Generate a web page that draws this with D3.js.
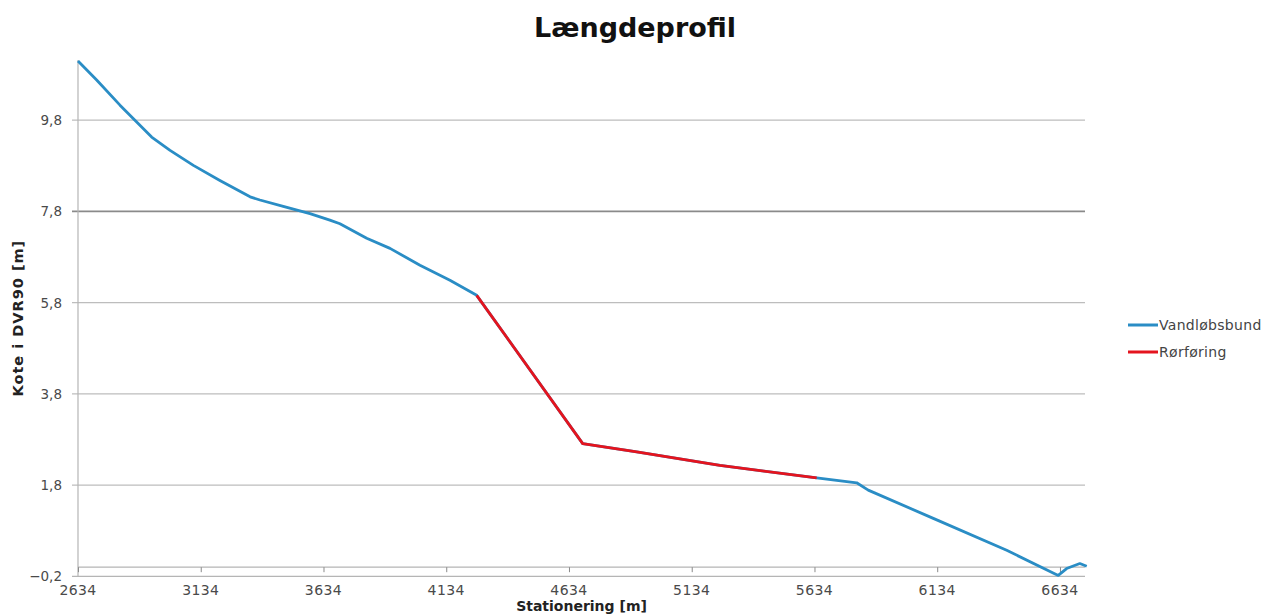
<!DOCTYPE html>
<html>
<head>
<meta charset="utf-8">
<script src="https://cdn.jsdelivr.net/npm/d3@7"></script>
<style>
  html, body { margin: 0; padding: 0; background: #fff; }
  svg { display: block; }
</style>
</head>
<body>
<svg id="chart" width="1267" height="616"></svg>
<script>
// ---- Data ----
const title = "Længdeprofil";
const xAxisTitle = "Stationering  [m]";
const yAxisTitle = "Kote i DVR90  [m]";
const xTickValues = [2634, 3134, 3634, 4134, 4634, 5134, 5634, 6134, 6634];
const yTickValues = [-0.2, 1.8, 3.8, 5.8, 7.8, 9.8];
const seriesNames = ["Vandløbsbund", "Rørføring"];

// Vandløbsbund (stationering, kote)
const bundStation = [2634, 2710, 2805, 2873, 2934, 3009, 3104, 3212, 3335, 3375, 3470, 3579, 3660, 3701, 3810, 3905, 4027, 4149, 4258,
                     4690, 4910, 5249, 5643, 5806, 5853, 6118, 6417, 6627, 6661, 6715, 6743];
const bundKote =    [11.10, 10.68, 10.13, 9.76, 9.43, 9.14, 8.81, 8.48, 8.12, 8.05, 7.91, 7.75, 7.61, 7.53, 7.21, 6.99, 6.62, 6.29, 5.96,
                     2.71, 2.53, 2.23, 1.96, 1.85, 1.69, 1.07, 0.37, -0.18, -0.03, 0.08, 0.02];
// Rørføring
const roerStation = [4258, 4690, 4910, 5249, 5643];
const roerKote =    [5.96, 2.71, 2.53, 2.23, 1.96];

const colors = ["#2a8dc5", "#e4141e"];

// ---- Layout ----
const svg = d3.select("#chart");
const mLeft = 78, mRight = 1085, mTop = 60, mBottom = 576.3;

const x = d3.scaleLinear().domain([2634, 6736]).range([mLeft, mRight]);
const y = d3.scaleLinear().domain([-0.2, 11.12]).range([mBottom, mTop]);
const fmt = d => d3.format(".1f")(d).replace(".", ",");
const font = "DejaVu Sans, Verdana, sans-serif";

// Gridlines
svg.append("g").selectAll("line").data(yTickValues.filter(v => v > -0.2)).join("line")
  .attr("x1", mLeft - 6).attr("x2", mRight)
  .attr("y1", d => y(d)).attr("y2", d => y(d))
  .attr("stroke", d => d === 7.8 ? "#8a8a8a" : "#bdbdbd").attr("stroke-width", d => d === 7.8 ? 1.6 : 1.2);

// bottom border (-0.2)
svg.append("line").attr("x1", mLeft - 6).attr("x2", mRight).attr("y1", y(-0.2)).attr("y2", y(-0.2))
  .attr("stroke", "#b5b5b5").attr("stroke-width", 1.2);

// y axis line
svg.append("line").attr("x1", mLeft).attr("x2", mLeft).attr("y1", mTop).attr("y2", y(-0.2))
  .attr("stroke", "#b5b5b5").attr("stroke-width", 1.2);

// Y axis labels
svg.append("g").selectAll("text").data(yTickValues).join("text")
  .attr("x", 62).attr("y", d => y(d) + 5)
  .attr("text-anchor", "end").attr("font-family", font).attr("font-size", 13.5)
  .attr("fill", "#4a4a4a").text(fmt);

// X axis at 0 with ticks
const xAxis = d3.axisBottom(x).tickValues(xTickValues).tickSize(5).tickFormat("");
const gx = svg.append("g").attr("transform", `translate(0,${y(0)})`).call(xAxis);
gx.select(".domain").attr("stroke", "#b5b5b5").attr("stroke-width", 1.2).attr("d", `M${mLeft},0H${mRight}`);
gx.selectAll(".tick line").attr("stroke", "#8a8a8a");

// X labels
svg.append("g").selectAll("text").data(xTickValues).join("text")
  .attr("x", d => x(d)).attr("y", 595)
  .attr("text-anchor", "middle").attr("font-family", font).attr("font-size", 14)
  .attr("letter-spacing", 0.4)
  .attr("fill", "#4a4a4a").text(d => d);

// Lines
const bund = bundStation.map((s, i) => [s, bundKote[i]]);
const roer = roerStation.map((s, i) => [s, roerKote[i]]);
const line = d3.line().x(d => x(d[0])).y(d => y(d[1]));

svg.append("path").datum(bund).attr("d", line).attr("fill", "none")
  .attr("stroke", colors[0]).attr("stroke-width", 2.8).attr("stroke-linejoin", "round");
svg.append("path").datum(roer).attr("d", line).attr("fill", "none")
  .attr("stroke", colors[1]).attr("stroke-width", 2.8).attr("stroke-linejoin", "round");

// Title
svg.append("text").attr("x", 635).attr("y", 37).attr("text-anchor", "middle")
  .attr("font-family", font).attr("font-weight", "bold").attr("font-size", 27)
  .attr("fill", "#111").text(title);

// Axis titles
svg.append("text").attr("x", (mLeft + mRight) / 2).attr("y", 611).attr("text-anchor", "middle")
  .attr("font-family", font).attr("font-weight", "bold").attr("font-size", 14)
  .attr("fill", "#222").text(xAxisTitle);
svg.append("text").attr("transform", `translate(23,${(mTop + mBottom) / 2}) rotate(-90)`)
  .attr("text-anchor", "middle")
  .attr("font-family", font).attr("font-weight", "bold").attr("font-size", 14.5)
  .attr("letter-spacing", 1)
  .attr("fill", "#222").text(yAxisTitle);

// Legend
const lg = svg.append("g").selectAll("g").data(seriesNames).join("g")
  .attr("transform", (d, i) => `translate(1128,${325 + i * 27})`);
lg.append("line").attr("x1", 0).attr("x2", 30).attr("y1", 0).attr("y2", 0)
  .attr("stroke", (d, i) => colors[i]).attr("stroke-width", 3);
lg.append("text").attr("x", 31).attr("y", 5)
  .attr("font-family", font).attr("font-size", 14).attr("letter-spacing", 0.3)
  .attr("fill", "#444").text(d => d);
</script>
</body>
</html>
